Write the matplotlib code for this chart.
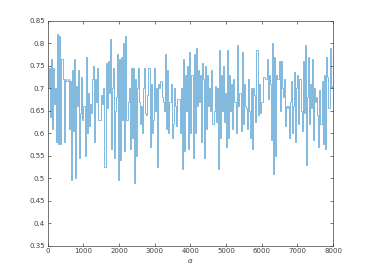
import numpy as np
import matplotlib.pyplot as plt
from matplotlib.collections import LineCollection

# values (stairs series, uniform steps over 0..8000)
vals = [
    0.70, 0.745, 0.635, 0.765, 0.61, 0.745, 0.665, 0.70, 0.58, 0.82,
    0.575, 0.815, 0.575, 0.765, 0.72, 0.58, 0.72, 0.715, 0.715, 0.72,
    0.61, 0.715, 0.495, 0.74, 0.605, 0.765, 0.50, 0.705, 0.66, 0.74,
    0.545, 0.645, 0.725, 0.63, 0.66, 0.55, 0.77, 0.60, 0.69, 0.615,
    0.665, 0.645, 0.72, 0.75, 0.58, 0.72, 0.67, 0.745, 0.63, 0.63,
    0.63, 0.685, 0.665, 0.70, 0.525, 0.755, 0.655, 0.76, 0.69, 0.81,
    0.565, 0.70, 0.745, 0.545, 0.65, 0.68, 0.775, 0.495, 0.765, 0.54,
    0.77, 0.63, 0.80, 0.56, 0.815, 0.63, 0.67, 0.70, 0.565, 0.745,
    0.59, 0.745, 0.49, 0.72, 0.55, 0.70, 0.745, 0.67, 0.62, 0.66,
    0.60, 0.70, 0.745, 0.645, 0.64, 0.685, 0.745, 0.57, 0.71, 0.60,
    0.63, 0.745, 0.65, 0.70, 0.525, 0.71, 0.70, 0.715, 0.715, 0.68,
    0.67, 0.65, 0.775, 0.61, 0.74, 0.60, 0.67, 0.71, 0.59, 0.62,
    0.70, 0.66, 0.615, 0.675, 0.675, 0.675, 0.60, 0.70, 0.52, 0.765,
    0.56, 0.73, 0.65, 0.75, 0.565, 0.78, 0.60, 0.73, 0.545, 0.775,
    0.60, 0.79, 0.66, 0.74, 0.67, 0.73, 0.58, 0.755, 0.72, 0.545,
    0.75, 0.61, 0.73, 0.66, 0.70, 0.65, 0.74, 0.62, 0.65, 0.705,
    0.625, 0.70, 0.52, 0.785, 0.59, 0.73, 0.65, 0.75, 0.625, 0.69,
    0.57, 0.785, 0.59, 0.73, 0.65, 0.71, 0.61, 0.72, 0.67, 0.60,
    0.795, 0.66, 0.69, 0.69, 0.605, 0.78, 0.62, 0.71, 0.66, 0.655,
    0.61, 0.72, 0.65, 0.59, 0.70, 0.565, 0.70, 0.685, 0.625, 0.785,
    0.64, 0.71, 0.645, 0.67, 0.67, 0.725, 0.725, 0.72, 0.72, 0.765,
    0.675, 0.73, 0.71, 0.585, 0.80, 0.51, 0.77, 0.55, 0.73, 0.72,
    0.76, 0.65, 0.76, 0.70, 0.68, 0.72, 0.615, 0.66, 0.655, 0.66,
    0.59, 0.67, 0.715, 0.60, 0.66, 0.735, 0.58, 0.70, 0.73, 0.62,
    0.72, 0.65, 0.605, 0.76, 0.645, 0.795, 0.53, 0.68, 0.77, 0.62,
    0.71, 0.655, 0.765, 0.585, 0.70, 0.67, 0.68, 0.64, 0.57, 0.695,
    0.62, 0.715, 0.575, 0.73, 0.565, 0.77, 0.725, 0.655, 0.655, 0.79,
    0.70, 0.705,
]
x_max = 8000
xticks = [0, 1000, 2000, 3000, 4000, 5000, 6000, 7000, 8000]
yticks = [0.35, 0.4, 0.45, 0.5, 0.55, 0.6, 0.65, 0.7, 0.75, 0.8, 0.85]

edges = np.linspace(0, x_max, len(vals) + 1)

# build the step outline, then draw every piece on its own so that
# overlapping strokes darken like the translucent original
xs = np.repeat(edges, 2)[1:-1]
ys = np.repeat(vals, 2)
pts = np.column_stack([xs, ys])
segs = np.stack([pts[:-1], pts[1:]], axis=1)

fig = plt.figure(figsize=(3.68, 2.76), dpi=100)
ax = fig.add_axes([0.13, 0.11, 0.775, 0.815])
lc = LineCollection(segs, colors="#0072BD", alpha=0.5, linewidths=0.7)
ax.add_collection(lc)

ax.set_xlim(0, x_max)
ax.set_ylim(0.35, 0.85)
ax.set_xticks(xticks)
ax.set_yticks(yticks)
ax.set_yticklabels([f"{v:g}" for v in yticks])
ax.tick_params(direction="in", length=2, width=0.5, labelsize=5,
               colors="#404040", top=True, right=True, pad=2)
for s in ax.spines.values():
    s.set_linewidth(0.5)
    s.set_color("#404040")
ax.set_xlabel(r"$\alpha$", fontsize=5, color="#404040", labelpad=2)

fig.savefig("out.png", dpi=100)
